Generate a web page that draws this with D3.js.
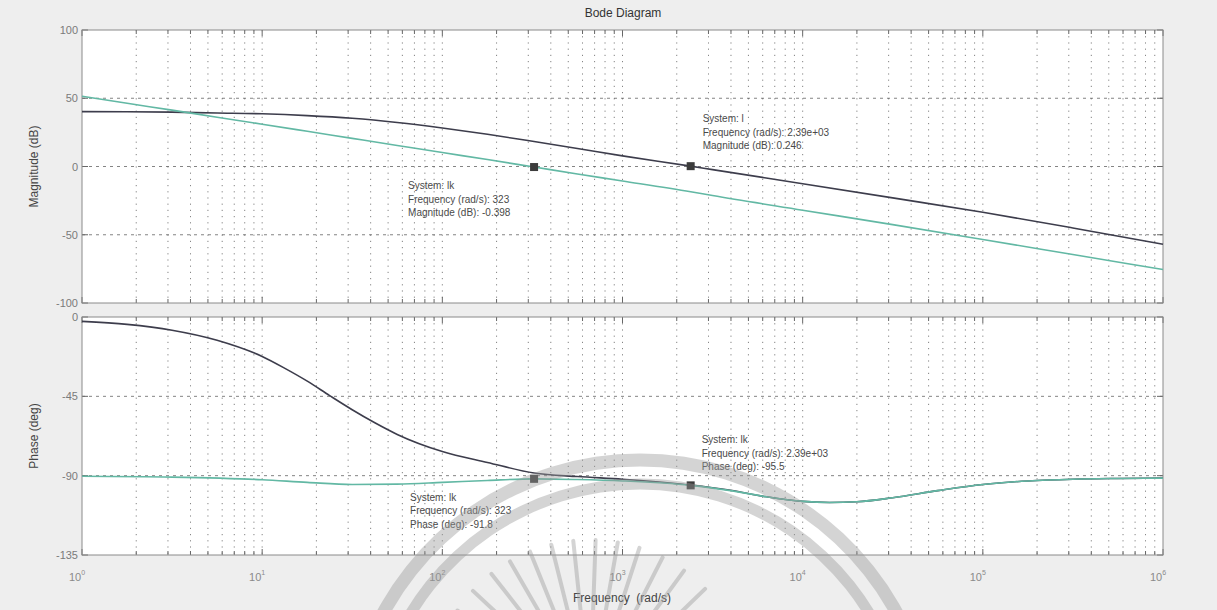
<!DOCTYPE html>
<html>
<head>
<meta charset="utf-8">
<script src="https://cdn.jsdelivr.net/npm/d3@7"></script>
<style>
  html, body { margin: 0; padding: 0; background: #eeeeee; }
  svg { display: block; font-family: "Liberation Sans", Arial, sans-serif; }
</style>
</head>
<body>
<svg id="chart" width="1217" height="610"></svg>
<script>
// ---- data -------------------------------------------------------------
// magnitude response (dB) of systems "l" and "lk"
const magFreq = [1, 1.78, 3.16, 5.62, 10, 17.8, 31.6, 56.2, 100, 178, 323, 562, 1000, 2390, 3160, 10000, 31600, 100000, 316000, 1000000];
const magL    = [40.2, 40.1, 39.8, 39.2, 38.6, 37.3, 35.3, 32.2, 28.2, 23.6, 18.3, 13.2, 7.8, 0.246, -2.3, -12.6, -23, -33.5, -45, -57];
const magLk   = [51.5, 46.3, 41.3, 36.1, 31.0, 25.8, 20.6, 15.4, 10.2, 5.1, -0.398, -5.5, -10.6, -18.5, -21.3, -32, -42.6, -53.5, -64.5, -75.5];

// phase response (deg)
const phaseFreqL = [1, 1.78, 3.16, 5.62, 10, 13.3, 17.8, 23.7, 31.6, 42.2, 56.2, 100, 178, 323, 562, 1000, 2390, 3980, 6310, 10000, 14100, 20000, 31600, 56200, 100000, 178000, 316000, 562000, 1000000];
const phaseL     = [-2.5, -4.2, -7.5, -13.2, -22.4, -29, -36.4, -44.6, -52.6, -60, -66.6, -76.3, -82.5, -88.5, -90.5, -92, -95.3, -98.3, -102, -104.6, -105.2, -104.8, -102.5, -98.5, -95, -93, -92, -91.6, -91.4];
const phaseFreqLk = [1, 3.16, 10, 17.8, 31.6, 56.2, 100, 178, 323, 562, 1000, 2390, 3980, 6310, 10000, 14100, 20000, 31600, 56200, 100000, 178000, 316000, 562000, 1000000];
const phaseLk     = [-90.3, -90.8, -92.3, -93.8, -95, -94.8, -93.8, -92.7, -91.8, -92.2, -93, -95.5, -98.5, -102, -104.6, -105.2, -104.8, -102.5, -98.5, -95, -93, -92, -91.6, -91.4];

// axis ticks
const freqDecades = [1, 10, 100, 1000, 10000, 100000, 1000000];
const decadeExp   = ["0", "1", "2", "3", "4", "5", "6"];
const magTicks    = [100, 50, 0, -50, -100];
const phaseTicks  = [0, -45, -90, -135];

// data tips
const magTipFreq  = [323, 2390];
const magTipValue = [-0.398, 0.246];
const magTipText  = [
  ["System: lk", "Frequency (rad/s): 323", "Magnitude (dB): -0.398"],
  ["System: l", "Frequency (rad/s): 2.39e+03", "Magnitude (dB): 0.246"]
];
const phaseTipFreq  = [323, 2390];
const phaseTipValue = [-91.8, -95.5];
const phaseTipText  = [
  ["System: lk", "Frequency (rad/s): 323", "Phase (deg): -91.8"],
  ["System: lk", "Frequency (rad/s): 2.39e+03", "Phase (deg): -95.5"]
];

// ---- layout -----------------------------------------------------------
const svg = d3.select("#chart");
const W = 1217, H = 610;
const left = 82, right = 1163;
const magTop = 30, magBottom = 303;
const phTop = 317, phBottom = 555;

const x = d3.scaleLog().domain([1, 1e6]).range([left, right]);
const yMag = d3.scaleLinear().domain([-100, 100]).range([magBottom, magTop]);
const yPh = d3.scaleLinear().domain([-135, 0]).range([phBottom, phTop]);

const colL = "#3d3d4c";
const colLk = "#62b8a4";
const gridCol = "#555";

// every log position 1..9 per decade
const minorFreqs = [];
for (let d = 0; d < 6; d++) {
  for (let k = 1; k <= 9; k++) minorFreqs.push(k * Math.pow(10, d));
}
minorFreqs.push(1e6);

svg.append("rect").attr("width", W).attr("height", H).attr("fill", "#eeeeee");

function panel(y, top, bottom, yTicks, yTickFmt) {
  const g = svg.append("g");
  g.append("rect").attr("x", left).attr("y", top)
    .attr("width", right - left).attr("height", bottom - top).attr("fill", "#ffffff");

  // vertical grid
  g.selectAll("line.vg").data(minorFreqs.filter(f => f > 1 && f < 1e6)).join("line")
    .attr("x1", d => x(d)).attr("x2", d => x(d))
    .attr("y1", top).attr("y2", bottom)
    .attr("stroke", gridCol).attr("stroke-width", 0.9)
    .attr("stroke-dasharray", "1.2,5").attr("opacity", 0.8);
  // horizontal grid
  g.selectAll("line.hg").data(yTicks.filter(t => y(t) > top + 1 && y(t) < bottom - 1)).join("line")
    .attr("x1", left).attr("x2", right)
    .attr("y1", d => y(d)).attr("y2", d => y(d))
    .attr("stroke", gridCol).attr("stroke-width", 0.9)
    .attr("stroke-dasharray", "3,4").attr("opacity", 0.8);

  // inward ticks on top and bottom edges
  const tk = g.append("g").attr("stroke", "#666").attr("stroke-width", 1);
  minorFreqs.forEach(f => {
    const len = freqDecades.includes(f) ? 6 : 4;
    tk.append("line").attr("x1", x(f)).attr("x2", x(f)).attr("y1", top).attr("y2", top + len);
    tk.append("line").attr("x1", x(f)).attr("x2", x(f)).attr("y1", bottom).attr("y2", bottom - len);
  });
  yTicks.forEach(t => {
    tk.append("line").attr("x1", left).attr("x2", left + 6).attr("y1", y(t)).attr("y2", y(t));
    tk.append("line").attr("x1", right).attr("x2", right - 6).attr("y1", y(t)).attr("y2", y(t));
  });

  // y tick labels
  g.selectAll("text.yt").data(yTicks).join("text")
    .attr("x", left - 4).attr("y", d => y(d) + 4)
    .attr("text-anchor", "end").attr("font-size", 11).attr("fill", "#7a7a7a")
    .text(yTickFmt);

  g.append("rect").attr("x", left).attr("y", top)
    .attr("width", right - left).attr("height", bottom - top)
    .attr("fill", "none").attr("stroke", "#8a8a8a").attr("stroke-width", 1);
  return g;
}

const magPanel = panel(yMag, magTop, magBottom, magTicks, d => d);
const phPanel = panel(yPh, phTop, phBottom, phaseTicks, d => d);

// ---- curves -------------------------------------------------------------
function curve(g, freqs, vals, y, color) {
  const line = d3.line().x(d => x(d[0])).y(d => y(d[1])).curve(d3.curveMonotoneX);
  g.append("path").datum(d3.zip(freqs, vals))
    .attr("d", line).attr("fill", "none")
    .attr("stroke", color).attr("stroke-width", 1.6);
}
curve(magPanel, magFreq, magL, yMag, colL);
curve(magPanel, magFreq, magLk, yMag, colLk);
curve(phPanel, phaseFreqL, phaseL, yPh, colL);
curve(phPanel, phaseFreqLk, phaseLk, yPh, colLk);

// ---- data tips ----------------------------------------------------------
function tips(g, freqs, vals, y, texts, offsets) {
  freqs.forEach((f, i) => {
    g.append("rect")
      .attr("x", x(f) - 4).attr("y", y(vals[i]) - 4)
      .attr("width", 8).attr("height", 8).attr("fill", "#3c3c3c");
    const t = g.append("text")
      .attr("x", x(f) + offsets[i][0]).attr("y", y(vals[i]) + offsets[i][1])
      .attr("font-size", 10).attr("fill", "#4a4a4a");
    texts[i].forEach((s, j) => {
      t.append("tspan").attr("x", x(f) + offsets[i][0]).attr("dy", j === 0 ? 0 : 13.5).text(s);
    });
  });
}
tips(magPanel, magTipFreq, magTipValue, yMag, magTipText, [[-126, 22], [12, -44]]);
tips(phPanel, phaseTipFreq, phaseTipValue, yPh, phaseTipText, [[-124, 22], [11, -42]]);

// ---- x tick labels --------------------------------------------------------
const xl = svg.append("g");
freqDecades.forEach((f, i) => {
  const t = xl.append("text")
    .attr("x", x(f) - 5).attr("y", 581)
    .attr("text-anchor", "middle").attr("font-size", 11).attr("fill", "#8a8a8a");
  t.append("tspan").text("10");
  t.append("tspan").attr("dy", -6).attr("font-size", 7).text(decadeExp[i]);
});

// ---- titles -------------------------------------------------------------
svg.append("text").attr("x", 623).attr("y", 17)
  .attr("text-anchor", "middle").attr("font-size", 12).attr("fill", "#333")
  .text("Bode Diagram");
svg.append("text").attr("x", 622).attr("y", 602)
  .attr("text-anchor", "middle").attr("font-size", 12).attr("fill", "#444")
  .attr("xml:space", "preserve")
  .text("Frequency  (rad/s)");
svg.append("text")
  .attr("transform", `translate(38,${(magTop + magBottom) / 2}) rotate(-90)`)
  .attr("text-anchor", "middle").attr("font-size", 12).attr("fill", "#444")
  .text("Magnitude (dB)");
svg.append("text")
  .attr("transform", `translate(38,${(phTop + phBottom) / 2}) rotate(-90)`)
  .attr("text-anchor", "middle").attr("font-size", 12).attr("fill", "#444")
  .text("Phase (deg)");

// ---- faint emblem stamped over the lower plot -------------------------
const em = svg.append("g").attr("fill", "none").attr("stroke", "#9a9a9a").attr("opacity", 0.42);
const cx = 640, cy = 752;
[[292, 13], [268, 11]].forEach(([r, w]) => {
  em.append("path")
    .attr("d", d3.arc()({ innerRadius: r - w / 2, outerRadius: r + w / 2, startAngle: -1.2, endAngle: 1.2 }))
    .attr("transform", `translate(${cx},${cy})`)
    .attr("fill", "#9a9a9a").attr("stroke", "none");
});
const rayAngles = [-66, -56, -47, -38, -30, -22, -14, -6, 2, 10, 18, 27, 36, 46];
rayAngles.forEach(a => {
  const rad = (a - 90) * Math.PI / 180;
  const r0 = 50, r1 = 160;
  em.append("line")
    .attr("x1", 590 + r0 * Math.cos(rad)).attr("y1", 700 + r0 * Math.sin(rad))
    .attr("x2", 590 + r1 * Math.cos(rad)).attr("y2", 700 + r1 * Math.sin(rad))
    .attr("stroke-width", 4).attr("stroke-linecap", "round");
});
</script>
</body>
</html>
